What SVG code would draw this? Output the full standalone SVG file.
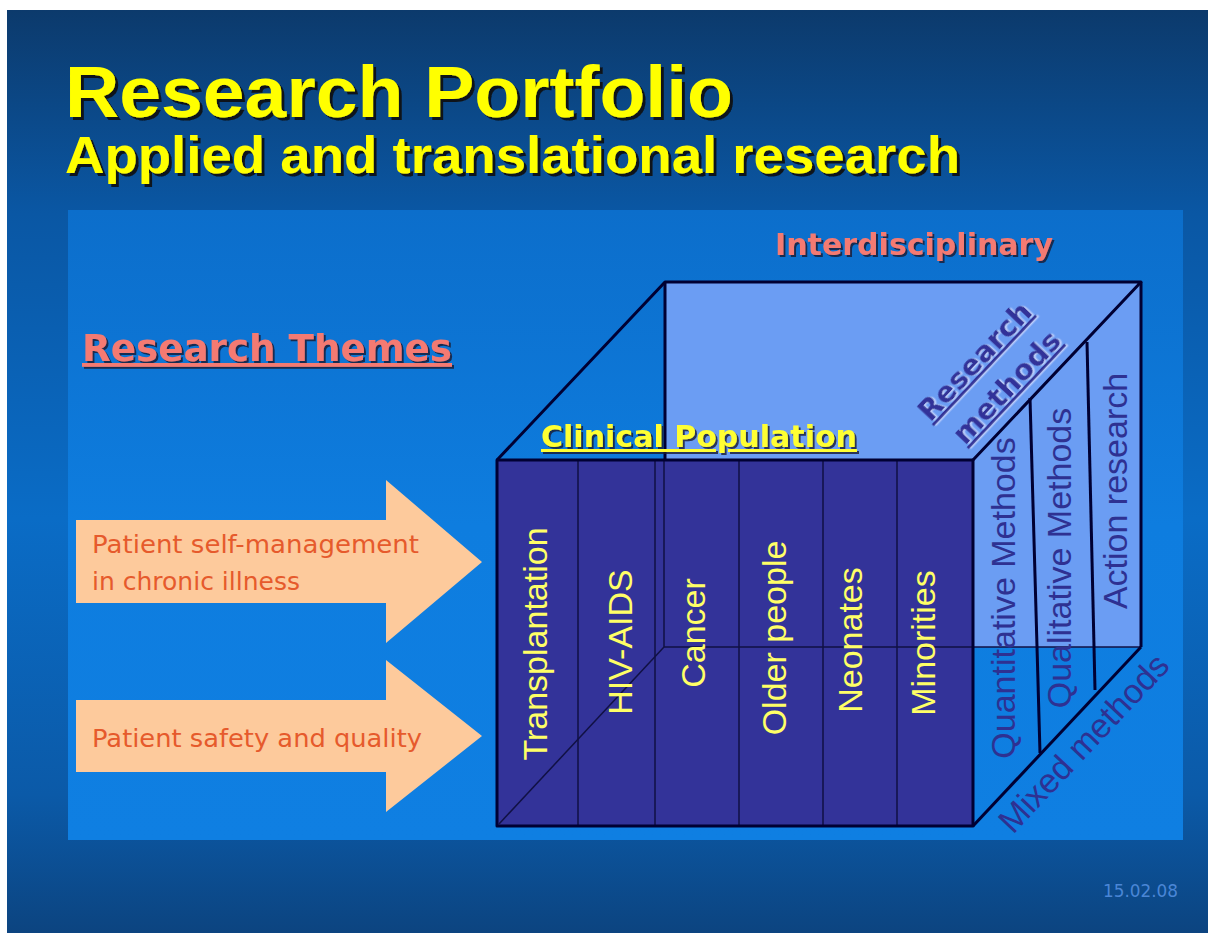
<svg xmlns="http://www.w3.org/2000/svg" width="1208" height="933" viewBox="0 0 1208 933">
<defs>
<linearGradient id="bg" x1="0" y1="0" x2="0" y2="1">
<stop offset="0" stop-color="#0c3a6c"/>
<stop offset="0.22" stop-color="#0a57a4"/>
<stop offset="0.55" stop-color="#0a6cc6"/>
<stop offset="0.85" stop-color="#0b5aa8"/>
<stop offset="1" stop-color="#0c4480"/>
</linearGradient>
<linearGradient id="panel" x1="0" y1="0" x2="0" y2="1">
<stop offset="0" stop-color="#0c6ecb"/>
<stop offset="0.5" stop-color="#0e7ddf"/>
<stop offset="1" stop-color="#0f7fe2"/>
</linearGradient>
<filter id="shTitle" x="-5%" y="-20%" width="110%" height="140%">
<feDropShadow dx="3" dy="3" stdDeviation="0.6" flood-color="#111" flood-opacity="0.9"/>
</filter>
<filter id="shDark" x="-5%" y="-20%" width="110%" height="140%">
<feDropShadow dx="2" dy="2" stdDeviation="0.5" flood-color="#1a1a33" flood-opacity="0.8"/>
</filter>
<filter id="shLight" x="-10%" y="-30%" width="120%" height="160%">
<feDropShadow dx="1.5" dy="1.5" stdDeviation="0.3" flood-color="#c8d6ff" flood-opacity="0.9"/>
</filter>
<style>
.title{font-family:"Liberation Sans",Arial,sans-serif;font-weight:bold;fill:#ffff00;}
.head{font-family:"DejaVu Sans",Verdana,sans-serif;font-weight:bold;text-decoration:underline;}
.arrowtxt{font-family:"DejaVu Sans",Verdana,sans-serif;font-size:25px;fill:#e65a2c;}
.col{font-family:"Liberation Sans",Arial,sans-serif;font-size:34px;fill:#ffff66;text-anchor:middle;}
.meth{font-family:"Liberation Sans",Arial,sans-serif;font-size:34px;fill:#2e3192;text-anchor:middle;}
.thick{stroke:#000033;stroke-width:3;fill:none;stroke-linejoin:round;}
.thin{stroke:#111144;stroke-width:1.5;fill:none;}
.arrow{fill:#fdca9c;}
</style>
</defs>

<rect x="0" y="0" width="1208" height="933" fill="#ffffff"/>
<rect x="7" y="10" width="1201" height="923" fill="url(#bg)"/>
<rect x="68" y="210" width="1115" height="630" fill="url(#panel)"/>

<g id="title">
<text class="title" x="65" y="117" font-size="72" textLength="668" lengthAdjust="spacingAndGlyphs" filter="url(#shTitle)">Research Portfolio</text>
<text class="title" x="65" y="173" font-size="52" textLength="895" lengthAdjust="spacingAndGlyphs" filter="url(#shTitle)">Applied and translational research</text>
</g>

<g id="research-themes">
<text class="head" x="82" y="361" font-size="38" fill="#f47a72" textLength="370" lengthAdjust="spacingAndGlyphs" filter="url(#shDark)">Research Themes</text>
</g>

<g id="interdisciplinary">
<text class="head" x="775" y="255" font-size="30" fill="#f47a72" style="text-decoration:none" textLength="278" lengthAdjust="spacingAndGlyphs" filter="url(#shDark)">Interdisciplinary</text>
</g>

<g id="arrow-self-management">
<polygon class="arrow" points="76,520 386,520 386,480 482,562 386,643 386,603 76,603"/>
<text class="arrowtxt" x="92" y="553" textLength="327" lengthAdjust="spacingAndGlyphs">Patient self-management</text>
<text class="arrowtxt" x="92" y="590">in chronic illness</text>
</g>

<g id="arrow-safety">
<polygon class="arrow" points="76,700 386,700 386,660 482,736 386,812 386,772 76,772"/>
<text class="arrowtxt" x="92" y="747" textLength="330" lengthAdjust="spacingAndGlyphs">Patient safety and quality</text>
</g>

<g id="cube-back">
<rect x="665" y="282" width="476" height="365" fill="#6b9df3"/>
</g>

<g id="cube-front">
<rect x="497" y="460" width="476" height="366" fill="#333399"/>
</g>

<g id="connectors">
<line class="thin" x1="578" y1="460" x2="578" y2="826"/>
<line class="thin" x1="655" y1="460" x2="655" y2="826"/>
<line class="thin" x1="739" y1="460" x2="739" y2="826"/>
<line class="thin" x1="823" y1="460" x2="823" y2="826"/>
<line class="thin" x1="897" y1="460" x2="897" y2="826"/>
<line class="thin" x1="664" y1="460" x2="664" y2="647"/>
<line class="thin" x1="664" y1="647" x2="1141" y2="647"/>
<line class="thin" x1="499" y1="824" x2="664" y2="647"/>
<line class="thick" x1="1030" y1="398" x2="1040" y2="753"/>
<line class="thick" x1="1087" y1="342" x2="1095" y2="690"/>
<polyline class="thick" points="497,460 665,282 1141,282 973,460"/>
<line class="thick" x1="665" y1="282" x2="665" y2="460"/>
<line class="thick" x1="1141" y1="282" x2="1141" y2="647"/>
<line class="thick" x1="973" y1="826" x2="1141" y2="647"/>
<rect class="thick" x="497" y="460" width="476" height="366"/>
</g>

<g id="clinical-population">
<text class="head" x="541" y="447" font-size="30" fill="#ffff33" textLength="316" lengthAdjust="spacingAndGlyphs" filter="url(#shDark)">Clinical Population</text>
</g>

<g id="populations">
<text class="col" transform="translate(535,644) rotate(-90)" x="0" y="12">Transplantation</text>
<text class="col" transform="translate(620,642) rotate(-90)" x="0" y="12">HIV-AIDS</text>
<text class="col" transform="translate(693,633) rotate(-90)" x="0" y="12">Cancer</text>
<text class="col" transform="translate(774,638) rotate(-90)" x="0" y="12">Older people</text>
<text class="col" transform="translate(850,640) rotate(-90)" x="0" y="12">Neonates</text>
<text class="col" transform="translate(923,643) rotate(-90)" x="0" y="12">Minorities</text>
</g>

<g id="research-methods">
<text class="head" font-size="29" fill="#333399" text-anchor="middle" transform="translate(982,368) rotate(-46.7)" filter="url(#shLight)">Research</text>
<text class="head" font-size="29" fill="#333399" text-anchor="middle" transform="translate(1014,394) rotate(-46.7)" filter="url(#shLight)">methods</text>
</g>

<g id="methods">
<text class="meth" transform="translate(1003,598) rotate(-90)" x="0" y="12">Quantitative Methods</text>
<text class="meth" transform="translate(1059,558) rotate(-90)" x="0" y="12">Qualitative Methods</text>
<text class="meth" transform="translate(1115,491) rotate(-90)" x="0" y="12">Action research</text>
<text class="meth" transform="translate(1092,751) rotate(-46.7)" x="0" y="0">Mixed methods</text>
</g>

<g id="date">
<text x="1103" y="897" font-family="DejaVu Sans, Verdana, sans-serif" font-size="17" fill="#4a86d6" textLength="75" lengthAdjust="spacingAndGlyphs">15.02.08</text>
</g>
</svg>
